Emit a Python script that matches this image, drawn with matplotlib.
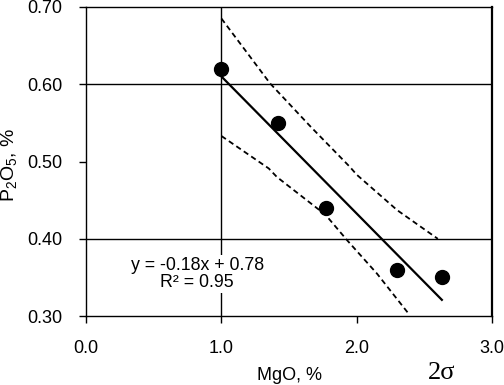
import matplotlib
matplotlib.use('Agg')
import matplotlib.pyplot as plt

# точки
mgo = [1.0, 1.42, 1.77, 2.30, 2.63]
p2o5 = [0.62, 0.55, 0.44, 0.36, 0.35]

# линия регрессии
fit_x = [1.0, 2.63]
fit_y = [0.610, 0.321]

# границы 2σ
upper_x = [1.0, 1.36, 1.66, 1.95, 2.0, 2.30, 2.60]
upper_y = [0.685, 0.601, 0.545, 0.493, 0.483, 0.437, 0.400]
lower_x = [1.0, 1.35, 1.41, 1.77, 1.93, 2.15, 2.38]
lower_y = [0.533, 0.491, 0.480, 0.431, 0.398, 0.355, 0.304]

x_ticks = [0.0, 1.0, 2.0, 3.0]
y_ticks = [0.30, 0.40, 0.50, 0.60, 0.70]

plt.rcParams['font.family'] = ['Liberation Sans', 'DejaVu Sans']
plt.rcParams['mathtext.fontset'] = 'custom'
plt.rcParams['mathtext.rm'] = 'Liberation Sans'
plt.rcParams['mathtext.it'] = 'Liberation Sans:italic'

fig = plt.figure(figsize=(5.04, 3.85), dpi=100)
ax = fig.add_axes([0.171, 0.179, 0.805, 0.803])

ax.axvline(1.0, color='black', lw=1.0, zorder=1)
for yy in (0.40, 0.60):
    ax.axhline(yy, color='black', lw=1.0, zorder=1)

ax.plot(upper_x, upper_y, color='black', lw=1.3, ls=(0, (3, 2)), zorder=2)
ax.plot(lower_x, lower_y, color='black', lw=1.3, ls=(0, (3, 2)), zorder=2)
ax.plot(fit_x, fit_y, color='black', lw=1.6, zorder=2)
ax.scatter(mgo, p2o5, s=100, color='black', zorder=3)

ax.text(0.82, 0.366, 'y = -0.18x + 0.78', ha='center', va='center', fontsize=12.8,
        bbox=dict(facecolor='white', edgecolor='none', pad=1), zorder=4)
ax.text(0.82, 0.343, 'R² = 0.95', ha='center', va='center', fontsize=12.8,
        bbox=dict(facecolor='white', edgecolor='none', pad=1), zorder=4)

ax.set_xlim(0, 3)
ax.set_ylim(0.30, 0.70)
ax.set_xticks(x_ticks)
ax.set_xticklabels([f'{v:.1f}' for v in x_ticks])
ax.set_yticks(y_ticks)
ax.set_yticklabels([f'{v:.2f}' for v in y_ticks])
ax.tick_params(axis='x', length=5, width=1, pad=12, labelsize=13)
ax.tick_params(axis='y', length=5, width=1, pad=12, labelsize=13)

for s in ax.spines.values():
    s.set_linewidth(1.0)
ax.spines['right'].set_linewidth(1.6)

ax.set_xlabel('MgO, %', fontsize=13)
ax.xaxis.set_label_coords(0.5, -0.191)
ax.xaxis.label.set_verticalalignment('center')
ax.set_ylabel(r'P$_2$O$_5$, %', fontsize=14)
ax.yaxis.set_label_coords(-0.19, 0.49)
ax.yaxis.label.set_verticalalignment('center')

fig.text(442 / 504, 1 - 379 / 385, '2σ', fontsize=19, family=['Liberation Serif', 'DejaVu Serif'],
         ha='center', va='baseline')

fig.savefig('out.png', dpi=100)
